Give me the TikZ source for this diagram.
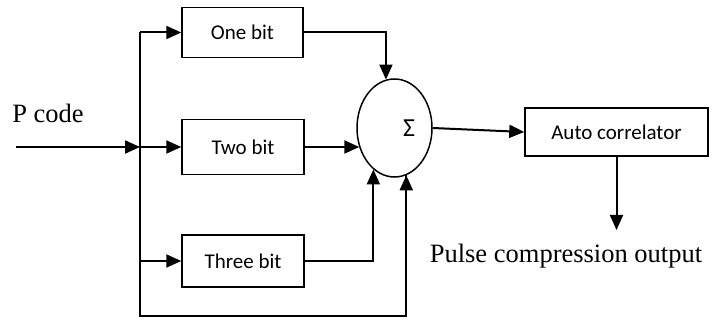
\documentclass[tikz,border=0pt]{standalone}
\usepackage{fontspec}
\setmainfont{Liberation Serif}
\newfontfamily\boxfont{Carlito}
\usetikzlibrary{arrows.meta,shapes.geometric}
\begin{document}
\begin{tikzpicture}[x=1pt,y=-1pt,
  blk/.style={draw,line width=1.5pt,minimum height=#1,inner sep=0pt,font=\boxfont\fontsize{21}{24}\selectfont},
  wire/.style={line width=2pt},
  arr/.style={line width=2pt,-{Triangle[length=15pt,width=13pt]}},
  lbl/.style={inner sep=0pt,font=\fontsize{26.5}{30}\selectfont}]
\useasboundingbox (0,0) rectangle (722,320);
\node[blk=50pt,minimum width=121pt] (one) at (242.5,32.5) {One bit};
\node[blk=55pt,minimum width=122pt] (two) at (243,147) {Two bit};
\node[blk=52pt,minimum width=122pt] (three) at (243,261) {Three bit};
\node[draw,ellipse,line width=1.5pt,minimum width=75pt,minimum height=98pt,inner sep=0pt] (sum) at (394.5,128) {};
\node[inner sep=0pt,font=\boxfont\fontsize{26}{28}\selectfont] (sig) at (409,128) {Σ};
\node[blk=48pt,minimum width=183pt] (auto) at (616.5,132) {Auto correlator};
\node[lbl,anchor=base] (pcode) at (48,123) {P code};
\node[lbl,anchor=base] (pulse) at (566,262) {Pulse compression output};
\coordinate (in) at (16,147);
\coordinate (split) at (140,147);
\coordinate (tl) at (140,32.5);
\coordinate (ml) at (140,261);
\coordinate (bl) at (140,316);
\coordinate (out) at (613,230);
\draw[arr] (in) -- (split);
\draw[wire] (tl) -- (bl) -| (sum.284);
\draw[arr] (bl) -| (sum.284);
\draw[arr] (tl) -- (one.west);
\draw[arr] (split) -- (two.west);
\draw[arr] (ml) -- (three.west);
\draw[arr] (one.east) -| (sum.100);
\draw[arr] (two.east) -- (two.east -| sum.209);
\draw[arr] (three.east) -| (sum.243);
\draw[arr] (sum.east) -- (auto.west);
\draw[arr] (auto.south) -- (auto.south |- out);
\end{tikzpicture}
\end{document}
